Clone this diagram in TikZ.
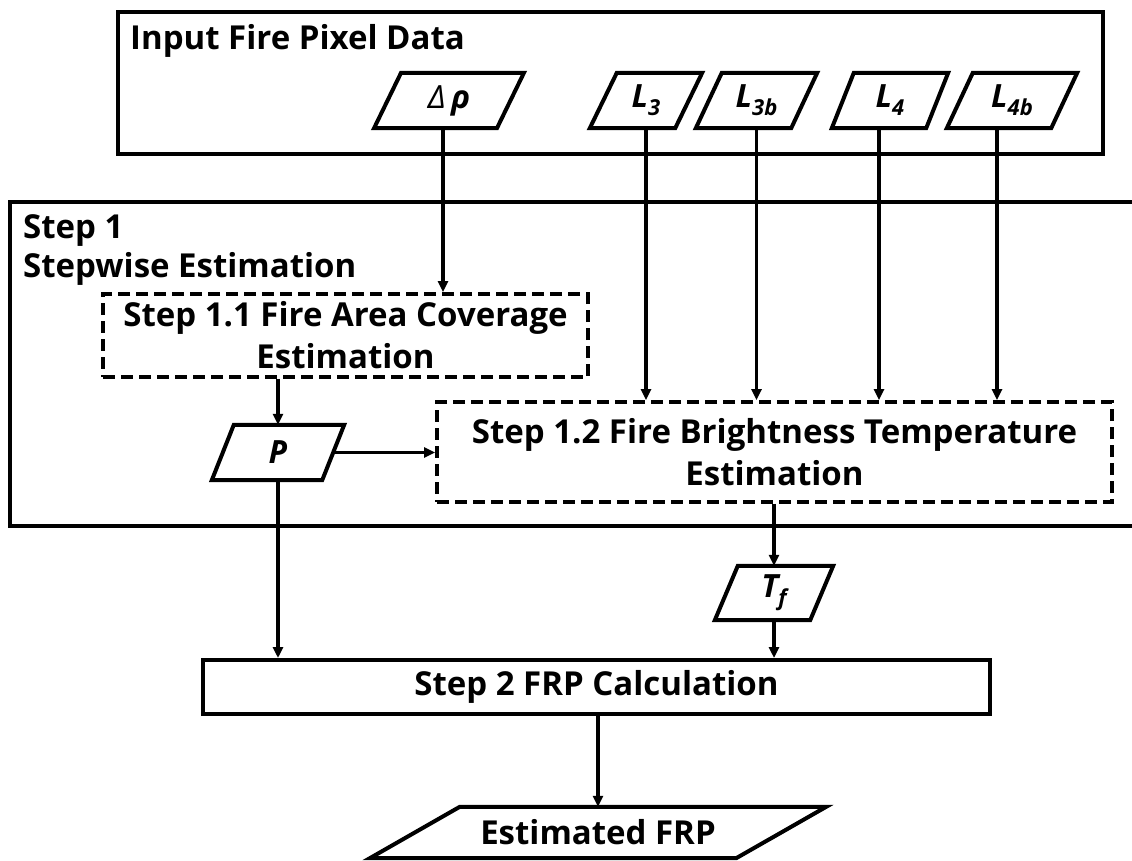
\documentclass[tikz,border=0pt]{standalone}
\usepackage{fontspec}
\setmainfont{Open Sans}
\usetikzlibrary{arrows.meta,calc}
\newcommand{\lsub}[1]{\raisebox{-0.45ex}{\fontsize{22}{22}\selectfont\itshape #1}}
\newcommand{\drawpara}[2]{\draw[boxline] ($(#1.south west)+(-#2/2,0)$) -- ($(#1.north west)+(#2/2,0)$) -- ($(#1.north east)+(#2/2,0)$) -- ($(#1.south east)+(-#2/2,0)$) -- cycle;}
\tikzset{
  boxline/.style={line width=4pt, line join=miter},
  solidbox/.style={draw, boxline, inner sep=0pt, font=\fontsize{33}{42}\selectfont\bfseries, align=center},
  dashbox/.style={draw, line width=3.8pt, dash pattern=on 12pt off 6pt, inner sep=0pt, font=\fontsize{33}{42}\selectfont\bfseries, align=center},
  paranode/.style={inner sep=0pt, font=\fontsize{32}{32}\selectfont\bfseries\itshape},
  lbl/.style={inner sep=0pt, font=\fontsize{33}{33}\selectfont\bfseries},
  arr/.style={line width=3.2pt, -{Triangle[length=11pt,width=10pt]}},
}
\begin{document}
\begin{tikzpicture}[x=1pt,y=-1pt]
\useasboundingbox[fill=white] (0,0) rectangle (1132,861);

% input box
\node[solidbox, minimum width=985pt, minimum height=142pt] (inbox) at (610.5,83) {};
\node[lbl, anchor=base west] (intitle) at (130,50) {Input Fire Pixel Data};

% input parallelograms
\node[paranode, minimum width=122.5pt, minimum height=55pt] (drho) at (449,100.5) {\mdseries Δ\,\bfseries ρ};
\node[paranode, minimum width=85pt, minimum height=55pt] (L3) at (646,100.5) {L\lsub{3}};
\node[paranode, minimum width=95pt, minimum height=55pt] (L3b) at (756.5,100.5) {L\lsub{3b}};
\node[paranode, minimum width=94pt, minimum height=55pt] (L4) at (890,100.5) {L\lsub{4}};
\node[paranode, minimum width=104pt, minimum height=55pt] (L4b) at (1012,100.5) {L\lsub{4b}};
\drawpara{drho}{27}
\drawpara{L3}{27}
\drawpara{L3b}{26}
\drawpara{L4}{22}
\drawpara{L4b}{26}

% step 1 container
\draw[boxline] (1134,202) -- (10,202) -- (10,526) -- (1134,526);
\node[lbl, anchor=base west] (s1a) at (23,238) {Step 1};
\node[lbl, anchor=base west] (s1b) at (23,277) {Stepwise Estimation};

% step 1.1 and 1.2
\node[dashbox, minimum width=485pt, minimum height=83pt] (S11) at (345.5,335.5) {Step 1.1 Fire Area Coverage\\Estimation};
\node[dashbox, minimum width=675pt, minimum height=100pt] (S12) at (774.5,452) {Step 1.2 Fire Brightness Temperature\\Estimation};

% P and Tf
\node[paranode, minimum width=110pt, minimum height=55pt] (P) at (278,452.5) {P};
\drawpara{P}{22}
\node[paranode, minimum width=95pt, minimum height=54pt] (Tf) at (774,593) {T\lsub{f}};
\drawpara{Tf}{23}

% step 2
\node[solidbox, minimum width=787pt, minimum height=54pt] (S2) at (596.5,687) {Step 2 FRP Calculation};

% output
\node[paranode, font=\fontsize{33}{33}\selectfont\bfseries, minimum width=366pt, minimum height=51pt] (EF) at (598,832.5) {Estimated FRP};
\drawpara{EF}{90}

% connectors
\draw[arr] ([xshift=-6pt]drho.south) -- ([xshift=-6pt]drho.south |- S11.north);
\draw[arr] (L3.south) -- (L3.south |- S12.north);
\draw[arr] (L3b.south) -- (L3b.south |- S12.north);
\draw[arr] ([xshift=-11pt]L4.south) -- ([xshift=-11pt]L4.south |- S12.north);
\draw[arr] ([xshift=-15pt]L4b.south) -- ([xshift=-15pt]L4b.south |- S12.north);
\draw[arr] (P.north |- S11.south) -- (P.north);
\draw[arr] (P.east) -- (S12.west |- P.east);
\draw[arr] (Tf.north |- S12.south) -- (Tf.north);
\draw[arr] (P.south) -- (P.south |- S2.north);
\draw[arr] (Tf.south) -- (Tf.south |- S2.north);
\draw[arr] (EF.north |- S2.south) -- (EF.north);
\end{tikzpicture}
\end{document}
